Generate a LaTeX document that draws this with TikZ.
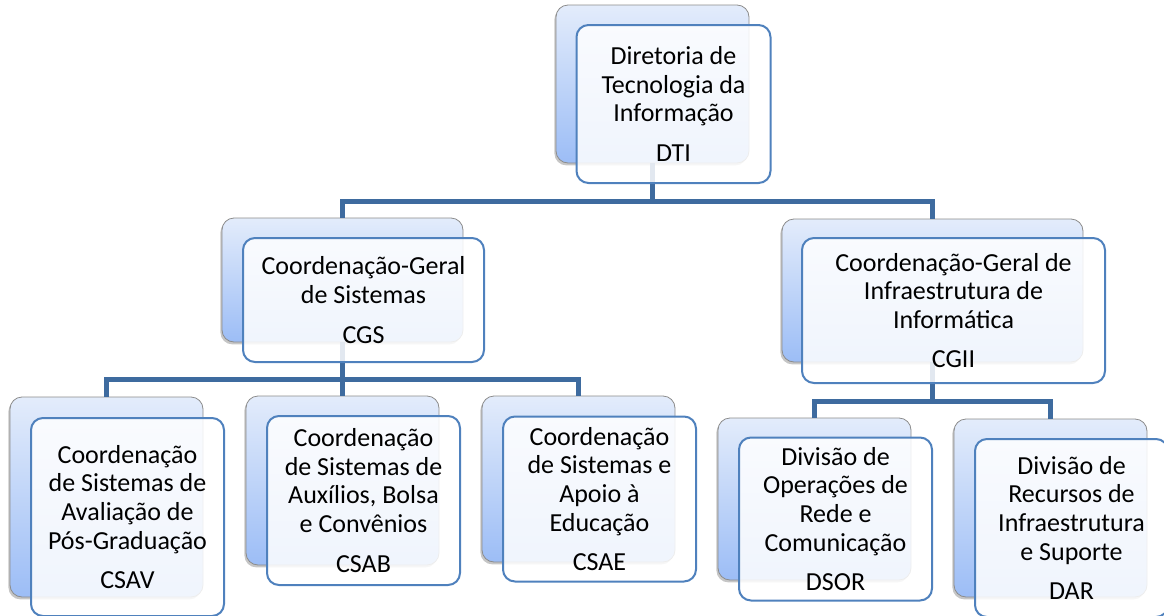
\documentclass[tikz,border=0pt]{standalone}
\usepackage{fontspec}
\setmainfont{Carlito}
\usetikzlibrary{shadows}
\definecolor{backtop}{HTML}{E3ECFB}
\definecolor{backbot}{HTML}{9CBDF6}
\definecolor{frontline}{HTML}{4F81BD}
\definecolor{linkblue}{HTML}{3E6B9F}

\begin{document}
\begin{tikzpicture}[x=0.5pt, y=-0.5pt,
    back/.style={draw=black!45, rounded corners=6pt, top color=backtop, bottom color=backbot,
      drop shadow={shadow xshift=-0.8pt, shadow yshift=-1.2pt, opacity=0.45},
      minimum width=96.5pt, inner sep=0pt},
    front/.style={draw=frontline, line width=1pt, rounded corners=6pt, fill=white,
      fill opacity=0.85, text opacity=1, align=center, inner sep=0pt,
      font=\fontsize{13pt}{14.3pt}\selectfont, minimum width=96.5pt,
      xshift=10.5pt, yshift=-10pt},
    link/.style={draw=linkblue, line width=2.5pt}]
  \useasboundingbox (0,0) rectangle (1164,616);
  % back boxes
  \node [back, minimum width=96.5pt, minimum height=79pt] (dtiB) at (652.5,84) {};
  \node [back, minimum width=120.5pt, minimum height=62pt] (cgsB) at (342.5,280) {};
  \node [back, minimum width=150.5pt, minimum height=71.5pt] (cgiiB) at (932.5,290.5) {};
  \node [back, minimum height=100pt] (csavB) at (106.5,497) {};
  \node [back, minimum height=84.5pt] (csabB) at (342.5,480.5) {};
  \node [back, minimum height=83pt] (csaeB) at (578.5,479) {};
  \node [back, minimum height=81pt] (dsorB) at (814.5,499) {};
  \node [back, minimum height=89pt] (darB) at (1050.5,508) {};
  % bars
  \coordinate (bartop) at (0,201);
  \coordinate (barcgs) at (0,379);
  \coordinate (barcgii) at (0,401);
  \draw [link] (dtiB.south) -- (dtiB.south |- bartop) -| (cgsB.north);
  \draw [link] (dtiB.south |- bartop) -| (cgiiB.north);
  \draw [link] (cgsB.south) -- (cgsB.south |- barcgs) -| (csavB.north);
  \draw [link] (cgsB.south |- barcgs) -| (csaeB.north);
  \draw [link] (cgsB.south |- barcgs) -- (csabB.north);
  \draw [link] (cgiiB.south) -- (cgiiB.south |- barcgii) -| (dsorB.north);
  \draw [link] (cgiiB.south |- barcgii) -| (darB.north);
  % front boxes
  \node [front, minimum width=97pt, minimum height=79pt] (dti) at (dtiB)
    {Diretoria de\\Tecnologia da\\Informação\\[5.5pt]DTI};
  \node [front, minimum width=120.5pt, minimum height=62pt] (cgs) at (cgsB)
    {Coordenação-Geral\\de Sistemas\\[5.5pt]CGS};
  \node [front, minimum width=151.5pt, minimum height=72.5pt] (cgii) at (cgiiB)
    {Coordenação-Geral de\\Infraestrutura de\\Informática\\[5.5pt]CGII};
  \node [front, minimum height=99pt] (csav) at (csavB)
    {Coordenação\\de Sistemas de\\Avaliação de\\Pós-Graduação\\[5.5pt]CSAV};
  \node [front, minimum height=84.5pt] (csab) at (csabB)
    {Coordenação\\de Sistemas de\\Auxílios, Bolsa\\e Convênios\\[5.5pt]CSAB};
  \node [front, minimum height=82.5pt] (csae) at (csaeB)
    {Coordenação\\de Sistemas e\\Apoio à\\Educação\\[5.5pt]CSAE};
  \node [front, minimum height=81.5pt] (dsor) at (dsorB)
    {Divisão de\\Operações de\\Rede e\\Comunicação\\[5.5pt]DSOR};
  \node [front, minimum height=89pt] (dar) at (darB)
    {Divisão de\\Recursos de\\Infraestrutura\\e Suporte\\[5.5pt]DAR};
\end{tikzpicture}
\end{document}
